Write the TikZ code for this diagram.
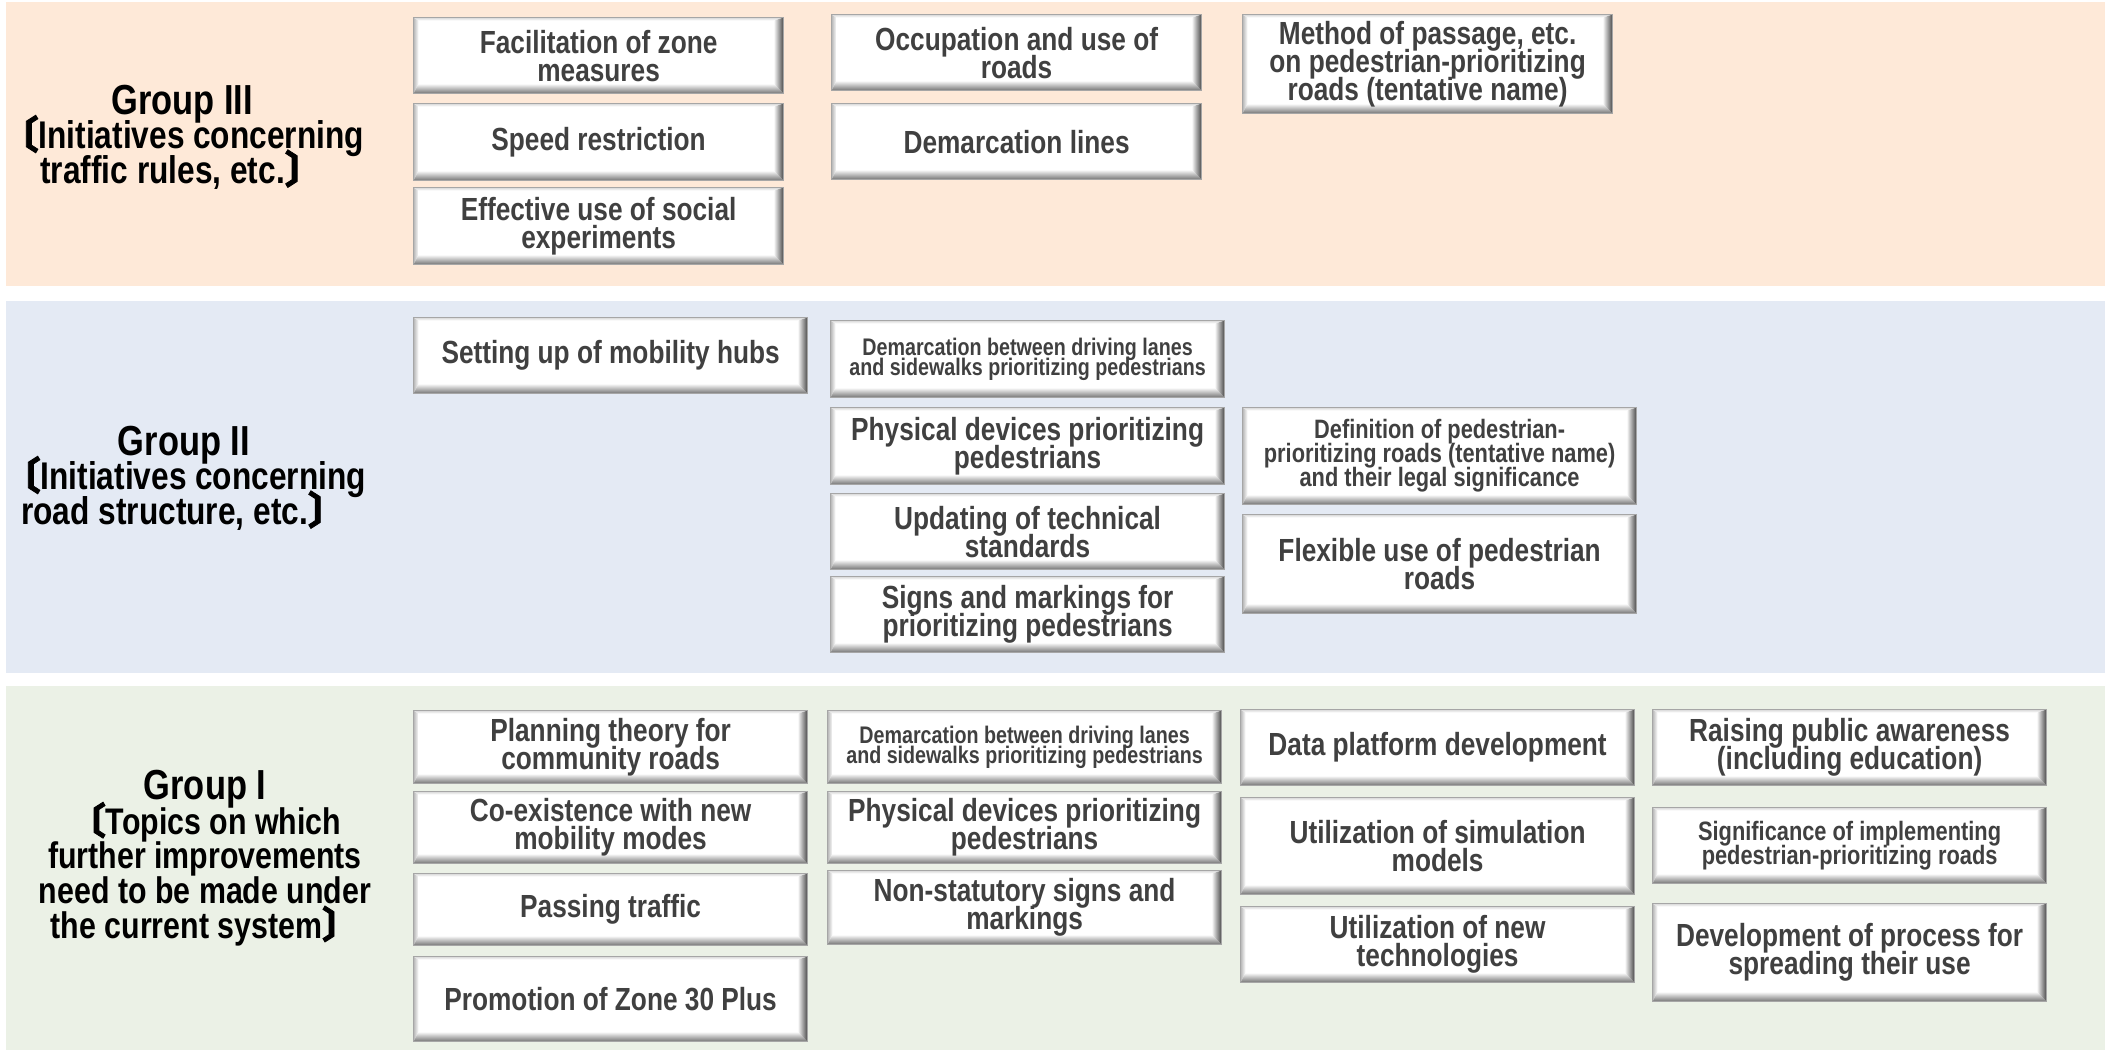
\documentclass[tikz,border=0pt]{standalone}
\usepackage{fontspec}
\usepackage{xcolor}
\usepackage{tikz}
\usetikzlibrary{calc,positioning}
\newfontfamily\narrowsf{Liberation Sans}[FakeStretch=0.82]
\newfontfamily\cjk{Noto Sans CJK JP}[FakeBold=2]
\definecolor{panelthree}{HTML}{FEE9D8}
\definecolor{paneltwo}{HTML}{E4EAF4}
\definecolor{panelone}{HTML}{EBF1E6}
\definecolor{tiletext}{HTML}{404040}
\newcommand{\lbr}{{\cjk 〔}}
\newcommand{\rbr}{{\cjk 〕}}
\lineskiplimit=-100pt
\lineskip=0pt
\tikzstyle{tile}  =[anchor=north west, draw=black!35, line width=0.6pt,
                    fill=white, align=center, inner sep=2pt, text=tiletext,
                    font=\narrowsf\bfseries\fontsize{16}{14}\selectfont,
                    path picture={
                      \coordinate (bl) at (path picture bounding box.south west);
                      \coordinate (tr) at (path picture bounding box.north east);
                      \coordinate (br) at (path picture bounding box.south east);
                      \coordinate (tl) at (path picture bounding box.north west);
                      \shade[left color=black!28, right color=white]
                        (bl) -- (tl) -- ++(2.5pt,-1.5pt) -- ($(bl)+(2.5pt,5pt)$) -- cycle;
                      \shade[top color=black!15, bottom color=white]
                        (tl) -- (tr) -- ++(-5pt,-1.5pt) -- ($(tl)+(2.5pt,-1.5pt)$) -- cycle;
                      \shade[top color=white, bottom color=black!55]
                        (bl) -- (br) -- ++(-5pt,5pt) -- ($(bl)+(2.5pt,5pt)$) -- cycle;
                      \shade[left color=white, right color=black!72]
                        (br) -- (tr) -- ++(-5pt,-1.5pt) -- ($(br)+(-5pt,5pt)$) -- cycle;
                    }]
\tikzstyle{narrow}=[tile, minimum width=185pt]
\tikzstyle{wide}  =[tile, minimum width=197pt]
\tikzstyle{small} =[font=\narrowsf\bfseries\fontsize{12}{10}\selectfont]
\tikzstyle{mid}   =[font=\narrowsf\bfseries\fontsize{13.3}{12}\selectfont]
\tikzstyle{group} =[align=center, text=black, inner sep=0pt,
                    font=\narrowsf\bfseries\fontsize{18.5}{17.3}\selectfont]
\tikzstyle{grouplarge}=[group, font=\narrowsf\bfseries\fontsize{19.3}{17.3}\selectfont]
\newcommand{\gname}[1]{{\fontsize{21}{17.3}\selectfont #1}}

\begin{document}
\lineskiplimit=-100pt
\lineskip=0pt
\begin{tikzpicture}[x=0.5pt, y=-0.5pt]
  \useasboundingbox (0,0) rectangle (2105,1050);

  % background bands
  \fill[panelthree] (6,2)   rectangle (2105,286);
  \fill[paneltwo]   (6,301) rectangle (2105,673);
  \fill[panelone]   (6,686) rectangle (2105,1050);

  % Group III
  \node[grouplarge] (g3) at (182,137) {\gname{Group III}\\\lbr Initiatives concerning\\traffic rules, etc.\rbr};
  \node[narrow, minimum height=38pt] (fzone) at (413,17) {Facilitation of zone\\measures};
  \node[narrow, minimum height=38.5pt] (speed) at (413,103) {Speed restriction};
  \node[narrow, minimum height=38.5pt] (social) at (413,187) {Effective use of social\\experiments};
  \node[narrow, minimum height=38pt] (occup) at (831,14) {Occupation and use of\\roads};
  \node[narrow, minimum height=38pt] (demline) at (831,103) {Demarcation lines};
  \node[narrow, minimum height=49.5pt] (passage) at (1242,14) {Method of passage, etc.\\on pedestrian-prioritizing\\roads (tentative name)};

  % Group II
  \node[grouplarge] (g2) at (184,478) {\gname{Group II}\\\lbr Initiatives concerning\\road structure, etc.\rbr};
  \node[wide, minimum height=38pt] (hubs) at (413,317) {Setting up of mobility hubs};
  \node[wide, small, minimum height=38.5pt] (dem2) at (830,320) {Demarcation between driving lanes\\and sidewalks prioritizing pedestrians};
  \node[wide, minimum height=38.5pt] (phys2) at (830,407) {Physical devices prioritizing\\pedestrians};
  \node[wide, minimum height=38pt] (upd) at (830,493) {Updating of technical\\standards};
  \node[wide, minimum height=38pt] (signs) at (830,576) {Signs and markings for\\prioritizing pedestrians};
  \node[wide, mid, minimum height=48.5pt] (defn) at (1242,407) {Definition of pedestrian-\\prioritizing roads (tentative name)\\and their legal significance};
  \node[wide, minimum height=49.5pt] (flex) at (1242,514) {Flexible use of pedestrian\\roads};

  % Group I
  \node[group] (g1) at (205,858) {\gname{Group I}\\\lbr Topics on which\\further improvements\\need to be made under\\the current system\rbr};
  \node[wide, minimum height=36.5pt] (plan) at (413,710) {Planning theory for\\community roads};
  \node[wide, minimum height=36pt] (coex) at (413,791) {Co-existence with new\\mobility modes};
  \node[wide, minimum height=36pt] (pass) at (413,873) {Passing traffic};
  \node[wide, minimum height=42.5pt] (zone30) at (413,956) {Promotion of Zone 30 Plus};
  \node[wide, small, minimum height=36.5pt] (dem1) at (827,710) {Demarcation between driving lanes\\and sidewalks prioritizing pedestrians};
  \node[wide, minimum height=36pt] (phys1) at (827,791) {Physical devices prioritizing\\pedestrians};
  \node[wide, minimum height=37pt] (nonstat) at (827,870) {Non-statutory signs and\\markings};
  \node[wide, minimum height=38pt] (data) at (1240,709) {Data platform development};
  \node[wide, minimum height=48.5pt] (simul) at (1240,797) {Utilization of simulation\\models};
  \node[wide, minimum height=38pt] (newtech) at (1240,906) {Utilization of new\\technologies};
  \node[wide, minimum height=38pt] (aware) at (1652,709) {Raising public awareness\\(including education)};
  \node[wide, mid, minimum height=38pt] (signif) at (1652,807) {Significance of implementing\\pedestrian-prioritizing roads};
  \node[wide, minimum height=49pt] (devproc) at (1652,903) {Development of process for\\spreading their use};

\end{tikzpicture}
\end{document}
